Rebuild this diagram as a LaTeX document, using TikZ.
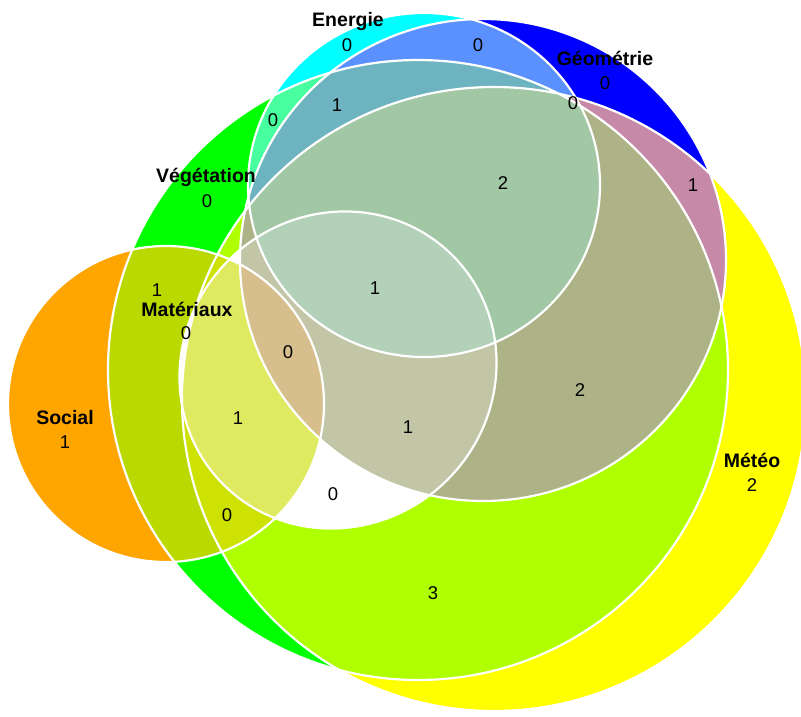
\documentclass[tikz,border=0pt]{standalone}
\usepackage{fontspec}
\setmainfont{Liberation Sans}

\definecolor{cSocial}{HTML}{FFA500}
\definecolor{cVeg}{HTML}{00FF00}
\definecolor{cMeteo}{HTML}{FFFF00}
\definecolor{cGeo}{HTML}{0000FF}
\definecolor{cEnergie}{HTML}{00FFFF}
\definecolor{cVS}{HTML}{B9D900}
\definecolor{cVW}{HTML}{B0FF00}
\definecolor{cVE}{HTML}{48FFA0}
\definecolor{cGE}{HTML}{5A91FF}
\definecolor{cGW}{HTML}{C68AA8}
\definecolor{cVGE}{HTML}{6EB4C0}
\definecolor{cVSW}{HTML}{CDE200}
\definecolor{cVGW}{HTML}{ADB387}
\definecolor{cVGEW}{HTML}{A2C7A4}
\definecolor{cVGWM}{HTML}{C2C6A6}
\definecolor{cVSWM}{HTML}{E0EA60}
\definecolor{cVGEWM}{HTML}{B3D1B8}
\definecolor{cVSGWM}{HTML}{D6BF8C}

\tikzset{
  setname/.style={font=\fontsize{19.5}{20}\selectfont\bfseries, inner sep=0pt},
  count/.style={font=\fontsize{18.5}{19}\selectfont, inner sep=0pt},
  rim/.style={draw=white, line width=2.2pt}
}

% set shapes
\newcommand{\shSocial}{(S) circle[radius=158pt]}
\newcommand{\shVeg}{(V) circle[radius=310pt]}
\newcommand{\shMeteo}{(W) circle[radius=312pt]}
\newcommand{\shGeo}{(G) ellipse[x radius=243pt, y radius=241pt]}
\newcommand{\shEnergie}{(E) ellipse[x radius=176pt, y radius=172pt]}
\newcommand{\shMat}{(M) ellipse[x radius=162pt, y radius=155pt, rotate=45]}

\begin{document}
\begin{tikzpicture}[x=1pt, y=-1pt]
\path[use as bounding box, clip] (0,0) rectangle (801,716);
\coordinate (S) at (166,404);
\coordinate (V) at (418,370);
\coordinate (W) at (494,399);
\coordinate (G) at (483,260);
\coordinate (E) at (424,185);
\coordinate (M) at (338,370);

% single sets
\fill[cMeteo] \shMeteo;
\fill[cVeg] \shVeg;
\fill[cSocial] \shSocial;
\fill[cGeo] \shGeo;
\fill[cEnergie] \shEnergie;

% two sets
\begin{scope}\clip \shVeg; \fill[cVS] \shSocial; \end{scope}
\begin{scope}\clip \shVeg; \fill[cVW] \shMeteo; \end{scope}
\begin{scope}\clip \shVeg; \fill[cVE] \shEnergie; \end{scope}
\begin{scope}\clip \shVeg; \fill[cVGW] \shGeo; \end{scope}
\begin{scope}\clip \shGeo; \fill[cGE] \shEnergie; \end{scope}
\begin{scope}\clip \shGeo; \fill[cGW] \shMeteo; \end{scope}

% three sets
\begin{scope}\clip \shVeg; \clip \shGeo; \fill[cVGE] \shEnergie; \end{scope}
\begin{scope}\clip \shVeg; \clip \shSocial; \fill[cVSW] \shMeteo; \end{scope}
\begin{scope}\clip \shVeg; \clip \shGeo; \fill[cVGW] \shMeteo; \end{scope}
\begin{scope}\clip \shVeg; \clip \shMeteo; \fill[white] \shMat; \end{scope}
\begin{scope}\clip \shVeg; \clip \shSocial; \fill[white] \shMat; \end{scope}

% four sets
\begin{scope}\clip \shVeg; \clip \shGeo; \clip \shEnergie; \fill[cVGEW] \shMeteo; \end{scope}
\begin{scope}\clip \shVeg; \clip \shGeo; \clip \shMeteo; \fill[cVGWM] \shMat; \end{scope}
\begin{scope}\clip \shVeg; \clip \shSocial; \clip \shMeteo; \fill[cVSWM] \shMat; \end{scope}

% five sets
\begin{scope}\clip \shVeg; \clip \shGeo; \clip \shEnergie; \clip \shMeteo; \fill[cVGEWM] \shMat; \end{scope}
\begin{scope}\clip \shVeg; \clip \shSocial; \clip \shGeo; \clip \shMeteo; \fill[cVSGWM] \shMat; \end{scope}

% outlines
\draw[rim] \shMeteo;
\draw[rim] \shVeg;
\draw[rim] \shSocial;
\draw[rim] \shGeo;
\draw[rim] \shEnergie;
\draw[rim] \shMat;

% set names
\node[setname] (lEnergie) at (348,21) {Energie};
\node[setname] (lGeo) at (605,58) {Géométrie};
\node[setname] (lVeg) at (206,177) {Végétation};
\node[setname] (lMat) at (187,309) {Matériaux};
\node[setname] (lSocial) at (65,418) {Social};
\node[setname] (lMeteo) at (752,460) {Météo};

% counts
\node[count] (nEnergie) at (347,45) {0};
\node[count] (nGeo) at (605,83) {0};
\node[count] (nVeg) at (207,201) {0};
\node[count] (nMat) at (186,333) {0};
\node[count] (nSocial) at (65,442) {1};
\node[count] (nMeteo) at (752,485) {2};
\node[count] (nGE) at (478,45) {0};
\node[count] (nGEW) at (573,103) {0};
\node[count] (nVE) at (273,120) {0};
\node[count] (nVGE) at (337,105) {1};
\node[count] (nVGEW) at (503,183) {2};
\node[count] (nGW) at (693,185) {1};
\node[count] (nVS) at (157,290) {1};
\node[count] (nVGEWM) at (375,288) {1};
\node[count] (nVSGWM) at (288,352) {0};
\node[count] (nVGW) at (580,390) {2};
\node[count] (nVSWM) at (238,418) {1};
\node[count] (nVGWM) at (408,427) {1};
\node[count] (nVWM) at (333,494) {0};
\node[count] (nVSW) at (227,515) {0};
\node[count] (nVW) at (433,593) {3};
\end{tikzpicture}
\end{document}
